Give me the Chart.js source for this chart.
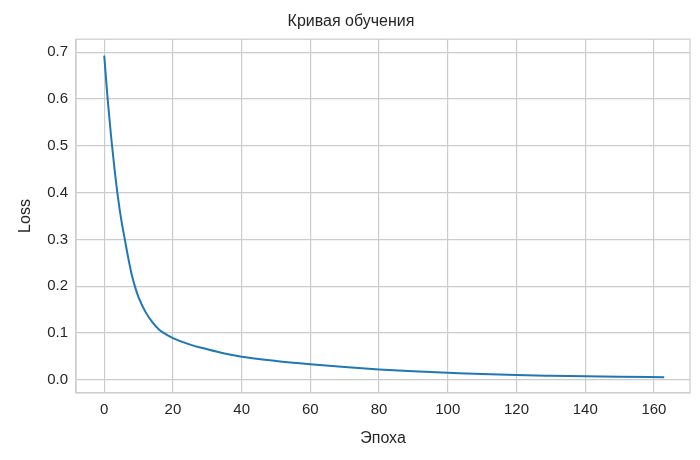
<!DOCTYPE html>
<html><head><meta charset="utf-8">
<script src="https://cdn.jsdelivr.net/npm/chart.js@4"></script>
<style>body{margin:0;background:#fff}#w{width:700px;height:460px}</style>
</head><body><div id="w"><canvas id="c"></canvas></div>
<script>
const epochs=[0,1,2,3,4,5,6,7,8,9,10,12,14,16,18,20,25,30,35,40,50,60,70,80,90,100,110,120,130,140,150,163];
const loss=[0.693,0.60,0.52,0.45,0.39,0.34,0.30,0.26,0.225,0.198,0.176,0.145,0.123,0.107,0.097,0.089,0.075,0.065,0.056,0.049,0.040,0.033,0.027,0.022,0.018,0.015,0.012,0.010,0.0085,0.0072,0.0062,0.0052];
const xTicks=[0,20,40,60,80,100,120,140,160];
const yTicks=[0,0.1,0.2,0.3,0.4,0.5,0.6,0.7];
const F='"Liberation Sans", Arial, sans-serif', C='#262626';
const box={id:'box',afterDraw(ch){const a=ch.chartArea,x=ch.ctx;x.save();x.strokeStyle='#cccccc';x.lineWidth=1.2;x.strokeRect(a.left,a.top,a.right-a.left,a.bottom-a.top);x.restore();}};
new Chart(document.getElementById('c'),{type:'line',plugins:[box],
data:{datasets:[{data:epochs.map((e,i)=>({x:e,y:loss[i]})),borderColor:'#1f77b4',borderWidth:2,pointRadius:0,cubicInterpolationMode:'monotone'}]},
options:{responsive:true,maintainAspectRatio:false,animation:false,
layout:{padding:{left:12,right:10,top:8,bottom:8}},
plugins:{legend:{display:false},title:{display:true,text:'Кривая обучения',color:C,font:{family:F,size:16,weight:'normal'},padding:{top:4,bottom:8}}},
scales:{
x:{type:'linear',min:-8.2,max:170.5,afterBuildTicks:a=>{a.ticks=xTicks.map(v=>({value:v}))},
 grid:{color:'#cccccc',lineWidth:1.2,drawTicks:false},border:{color:'#cccccc',width:1.2},
 ticks:{color:C,font:{family:F,size:15},padding:8},
 title:{display:true,text:'Эпоха',color:C,font:{family:F,size:16},padding:{top:2}}},
y:{min:-0.028,max:0.728,afterBuildTicks:a=>{a.ticks=yTicks.map(v=>({value:v}))},
 grid:{color:'#cccccc',lineWidth:1.2,drawTicks:false},border:{color:'#cccccc',width:1.2},
 ticks:{color:C,font:{family:F,size:15},padding:8,callback:v=>v.toFixed(1)},
 title:{display:true,text:'Loss',color:C,font:{family:F,size:16}}}}}});
</script></body></html>
